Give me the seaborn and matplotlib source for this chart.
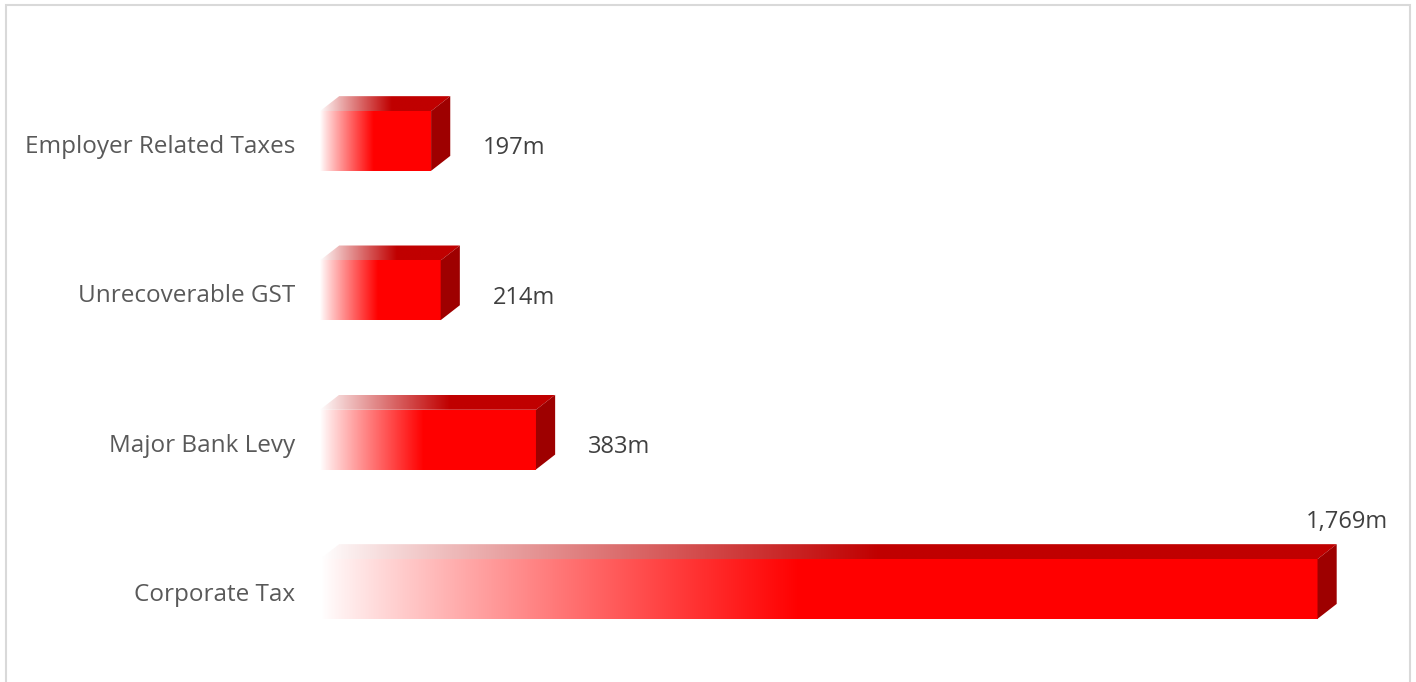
import numpy as np
import pandas as pd
import matplotlib
matplotlib.use("Agg")
import matplotlib.pyplot as plt
import seaborn as sns
from matplotlib.patches import Polygon, Rectangle
from matplotlib.colors import to_rgb
from matplotlib.transforms import ScaledTranslation


# data (A$ millions)
categories = ["Employer Related Taxes", "Unrecoverable GST", "Major Bank Levy", "Corporate Tax"]
values = [197, 214, 383, 1769]
value_labels = ["197m", "214m", "383m", "1,769m"]

FRONT = "#FF0000"
TOP = "#C00000"
SIDE = "#9E0000"
TEXT = "#595959"

sns.set_theme(style="white")
plt.rcParams["font.family"] = ["Open Sans", "DejaVu Sans"]

df = pd.DataFrame({"category": categories, "value": values})

fig = plt.figure(figsize=(14.16, 6.82), dpi=100)
ax = fig.add_axes([320 / 1416, 0, (1410 - 320) / 1416, 1])

bar_h = 0.4
sns.barplot(data=df, x="value", y="category", orient="h", color=FRONT,
            width=bar_h, ax=ax, saturation=1)

ax.set_xlim(0, 1933)
ax.set_ylim(3.623, -0.944)

# depth of the fake 3d box, in data units
dx = 34
dy = 0.1


def gradient_img(c_end, n=256, frac=0.48):
    t = np.clip(np.linspace(0, 1, n) / frac, 0, 1)
    t = t ** 0.9
    end = np.array(to_rgb(c_end))
    rgb = (1 - t)[:, None] * np.ones(3) + t[:, None] * end
    return rgb[None, :, :]


for patch, val in zip(ax.patches, values):
    x0 = patch.get_x()
    x1 = x0 + patch.get_width()
    yt = patch.get_y()
    yb = yt + patch.get_height()
    patch.set_facecolor("none")
    patch.set_edgecolor("none")

    # front face with white -> red gradient
    front = Polygon([(x0, yt), (x1, yt), (x1, yb), (x0, yb)], closed=True,
                    facecolor="none", edgecolor="none")
    ax.add_patch(front)
    im = ax.imshow(gradient_img(FRONT), extent=(x0, x1, yb, yt),
                   aspect="auto", interpolation="bilinear", zorder=2)
    im.set_clip_path(front)

    # top face
    top = Polygon([(x0, yt), (x1, yt), (x1 + dx, yt - dy), (x0 + dx, yt - dy)],
                  closed=True, facecolor="none", edgecolor="none")
    ax.add_patch(top)
    im2 = ax.imshow(gradient_img(TOP, frac=0.55), extent=(x0, x1 + dx, yt, yt - dy),
                    aspect="auto", interpolation="bilinear", zorder=2)
    im2.set_clip_path(top)

    # right side face
    side = Polygon([(x1, yt), (x1 + dx, yt - dy), (x1 + dx, yb - dy), (x1, yb)],
                   closed=True, facecolor=SIDE, edgecolor="none", zorder=3)
    ax.add_patch(side)

ax.set_xlim(0, 1933)
ax.set_ylim(3.623, -0.944)

# value labels
for i, (val, lab) in enumerate(zip(values, value_labels)):
    if i == len(values) - 1:
        ax.text(val + dx + 18, i - 0.45, lab, ha="center", va="center",
                fontsize=17, color="#404040")
    else:
        ax.text(val + dx + 58, i + 0.05, lab, ha="left", va="center",
                fontsize=17, color="#404040")

ax.set_xlabel("")
ax.set_ylabel("")
ax.set_xticks([])
ax.tick_params(axis="y", length=0, pad=18, labelsize=17.5, labelcolor=TEXT)
shift = ScaledTranslation(0, -3 / 100, fig.dpi_scale_trans)
for lbl in ax.get_yticklabels():
    lbl.set_transform(lbl.get_transform() + shift)
for s in ax.spines.values():
    s.set_visible(False)

# light grey frame around the chart
fig.patches.append(Rectangle((6 / 1416, -0.05), (1410 - 6) / 1416, 1.05 - 5 / 682,
                             transform=fig.transFigure, fill=False,
                             edgecolor="#D9D9D9", linewidth=1.5))

fig.savefig("out.png", dpi=100)
